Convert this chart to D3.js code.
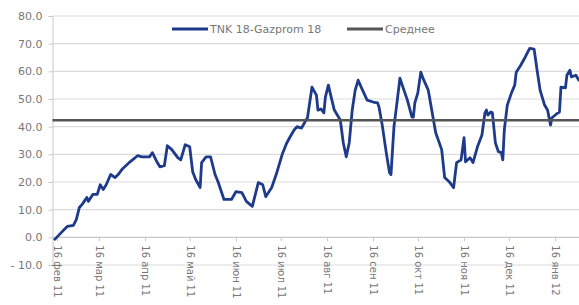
<!DOCTYPE html>
<html>
<head>
<meta charset="utf-8">
<script src="https://cdn.jsdelivr.net/npm/d3@7"></script>
<style>
  body { margin: 0; background: #fff; }
  svg text { font-family: "DejaVu Sans", "Open Sans", sans-serif; fill: #777; }
</style>
</head>
<body>
<div id="chart"></div>
<script>
const width = 579;
const height = 305;

// spread series, daily-ish observations
const dates = [
  "2011-02-14","2011-02-19","2011-02-23","2011-02-27","2011-03-01","2011-03-03","2011-03-05","2011-03-08",
  "2011-03-09","2011-03-12","2011-03-15","2011-03-17","2011-03-19","2011-03-21","2011-03-24","2011-03-27",
  "2011-03-29","2011-04-01","2011-04-06","2011-04-11","2011-04-14","2011-04-19","2011-04-21","2011-04-24",
  "2011-04-26","2011-04-29","2011-05-01","2011-05-04","2011-05-08","2011-05-10","2011-05-13","2011-05-16",
  "2011-05-18","2011-05-20","2011-05-23","2011-05-24","2011-05-27","2011-05-30","2011-06-02","2011-06-04",
  "2011-06-08","2011-06-13","2011-06-16","2011-06-20","2011-06-23","2011-06-27","2011-07-01","2011-07-04",
  "2011-07-06","2011-07-10","2011-07-13","2011-07-17","2011-07-20","2011-07-22","2011-07-25","2011-07-27",
  "2011-07-30","2011-08-01","2011-08-03","2011-08-06","2011-08-09","2011-08-10","2011-08-12","2011-08-14",
  "2011-08-15","2011-08-17","2011-08-19","2011-08-21","2011-08-23","2011-08-25","2011-08-27","2011-08-29",
  "2011-08-31","2011-09-02","2011-09-04","2011-09-06","2011-09-08","2011-09-12","2011-09-16","2011-09-19",
  "2011-09-20","2011-09-22","2011-09-25","2011-09-27","2011-09-28","2011-09-30","2011-10-02","2011-10-04",
  "2011-10-06","2011-10-09","2011-10-12","2011-10-13","2011-10-14","2011-10-16","2011-10-18","2011-10-20",
  "2011-10-23","2011-10-25","2011-10-28","2011-11-01","2011-11-03","2011-11-06","2011-11-09","2011-11-11",
  "2011-11-14","2011-11-16","2011-11-17","2011-11-20","2011-11-22","2011-11-25","2011-11-28","2011-11-30",
  "2011-12-01","2011-12-02","2011-12-04","2011-12-05","2011-12-07","2011-12-09","2011-12-11","2011-12-12",
  "2011-12-13","2011-12-15","2011-12-18","2011-12-20","2011-12-21","2011-12-24","2011-12-27","2011-12-30",
  "2012-01-02","2012-01-04","2012-01-06","2012-01-09","2012-01-11","2012-01-13","2012-01-14","2012-01-17",
  "2012-01-19","2012-01-20","2012-01-23","2012-01-24","2012-01-26","2012-01-27","2012-01-30","2012-02-01",
  "2012-02-03"
];
const spread = [
  -1.0, 1.8, 4.0, 4.3, 6.5, 10.8, 12.0, 14.4,
  13.0, 15.5, 15.5, 19.0, 17.3, 19.0, 22.7, 21.6,
  22.7, 24.8, 27.3, 29.5, 29.1, 29.1, 30.6, 27.3,
  25.5, 25.9, 33.1, 31.7, 28.8, 28.0, 33.5, 32.7,
  23.7, 20.9, 18.0, 27.0, 29.1, 29.1, 22.7, 20.1,
  13.7, 13.7, 16.5, 16.2, 13.0, 11.2, 19.8, 19.0,
  14.7, 18.0, 22.7, 29.9, 34.0, 36.0, 38.8, 40.0,
  39.5, 41.4, 43.2, 54.3, 51.4, 46.0, 46.4, 45.0,
  50.7, 55.0, 50.4, 46.0, 44.2, 42.4, 34.2, 29.1,
  34.2, 46.0, 53.2, 56.8, 54.3, 49.6, 48.9, 48.6,
  47.0, 41.0, 30.0, 23.4, 22.7, 40.0, 48.6, 57.5,
  54.3, 49.6, 43.5, 43.5, 48.6, 52.2, 59.7, 56.8,
  53.2, 47.0, 37.8, 31.7, 21.6, 20.1, 18.0, 27.0,
  28.0, 36.0, 27.3, 28.8, 27.0, 32.7, 37.0, 45.0,
  46.0, 44.2, 45.3, 45.0, 34.2, 31.0, 30.6, 28.0,
  38.8, 47.8, 52.5, 55.0, 59.7, 62.2, 65.1, 68.3,
  68.0, 60.4, 53.2, 47.8, 46.0, 40.6, 43.2, 44.6,
  45.3, 54.3, 54.0, 58.6, 60.4, 58.0, 58.6, 56.8,
  57.2
];
const meanValue = 42.3;

const yTicks = [-10, 0, 10, 20, 30, 40, 50, 60, 70, 80];
const monthTicks = ["2011-02-16","2011-03-16","2011-04-16","2011-05-16","2011-06-16","2011-07-16",
  "2011-08-16","2011-09-16","2011-10-16","2011-11-16","2011-12-16","2012-01-16"];
const monthLabels = ["16 фев 11","16 мар 11","16 апр 11","16 май 11","16 июн 11","16 июл 11",
  "16 авг 11","16 сен 11","16 окт 11","16 ноя 11","16 дек 11","16 янв 12"];
const seriesNames = ["TNK 18-Gazprom 18", "Среднее"];

const parse = d3.timeParse("%Y-%m-%d");
const data = dates.map((d, i) => ({date: parse(d), value: spread[i]}));

const x = d3.scaleTime()
  .domain([parse("2011-02-16"), parse("2012-01-16")])
  .range([57, 555]);
const y = d3.scaleLinear().domain([-10, 80]).range([265, 16]);
const left = x(parse("2011-02-13"));

const svg = d3.select("#chart").append("svg")
  .attr("width", width)
  .attr("height", height);

// gridlines
svg.append("g")
  .selectAll("line")
  .data(yTicks.filter(d => d !== 0))
  .enter().append("line")
  .attr("x1", left).attr("x2", width)
  .attr("y1", d => y(d)).attr("y2", d => y(d))
  .attr("stroke", "#dcdcdc").attr("stroke-width", 1.2);

// y axis
const yAxis = svg.append("g")
  .attr("transform", `translate(${left},0)`)
  .call(d3.axisLeft(y).tickValues(yTicks).tickSize(4).tickPadding(6)
    .tickFormat(d => d < 0 ? "- " + Math.abs(d).toFixed(1) : d.toFixed(1)));
yAxis.select(".domain").attr("stroke", "#c8c8c8");
yAxis.selectAll(".tick line").attr("stroke", "#c8c8c8");
yAxis.selectAll("text").style("font-size", "11px").attr("fill", "#777");

// x axis at zero
const xAxis = svg.append("g")
  .attr("transform", `translate(0,${y(0)})`)
  .call(d3.axisBottom(x).tickValues(monthTicks.map(parse)).tickSize(4)
    .tickFormat((d, i) => monthLabels[i]));
xAxis.select(".domain").attr("d", `M${left},0H${width}`).attr("stroke", "#c8c8c8").attr("stroke-width", 1.2);
xAxis.selectAll(".tick line").attr("stroke", "#c8c8c8");
xAxis.selectAll("text")
  .style("font-size", "10px")
  .attr("fill", "#777")
  .attr("text-anchor", "start")
  .attr("transform", "rotate(90)")
  .attr("x", 8).attr("y", 0).attr("dy", "0.35em");

// spread line
const line = d3.line()
  .x(d => x(d.date))
  .y(d => y(d.value));

svg.append("defs").append("clipPath").attr("id", "plot")
  .append("rect").attr("x", left).attr("y", 0).attr("width", width - left).attr("height", height);

svg.append("path")
  .datum(data)
  .attr("clip-path", "url(#plot)")
  .attr("d", line)
  .attr("fill", "none")
  .attr("stroke", "#1e3a8a")
  .attr("stroke-width", 2.8)
  .attr("stroke-linejoin", "round");

// mean line
svg.append("line")
  .attr("x1", left).attr("x2", width)
  .attr("y1", y(meanValue)).attr("y2", y(meanValue))
  .attr("stroke", "#555555")
  .attr("stroke-width", 2.6);

// legend
const legend = svg.append("g");
legend.append("rect")
  .attr("x", 165).attr("y", 19).attr("width", 285).attr("height", 20)
  .attr("fill", "#fff");
const legendItems = [
  {name: seriesNames[0], color: "#1e3a8a", x: 172},
  {name: seriesNames[1], color: "#555555", x: 347}
];
legendItems.forEach(it => {
  legend.append("line")
    .attr("x1", it.x).attr("x2", it.x + 36)
    .attr("y1", 29).attr("y2", 29)
    .attr("stroke", it.color).attr("stroke-width", 2.8);
  legend.append("text")
    .attr("x", it.x + 38).attr("y", 29).attr("dy", "0.35em")
    .style("font-size", "11px")
    .attr("fill", "#666")
    .text(it.name);
});
</script>
</body>
</html>
